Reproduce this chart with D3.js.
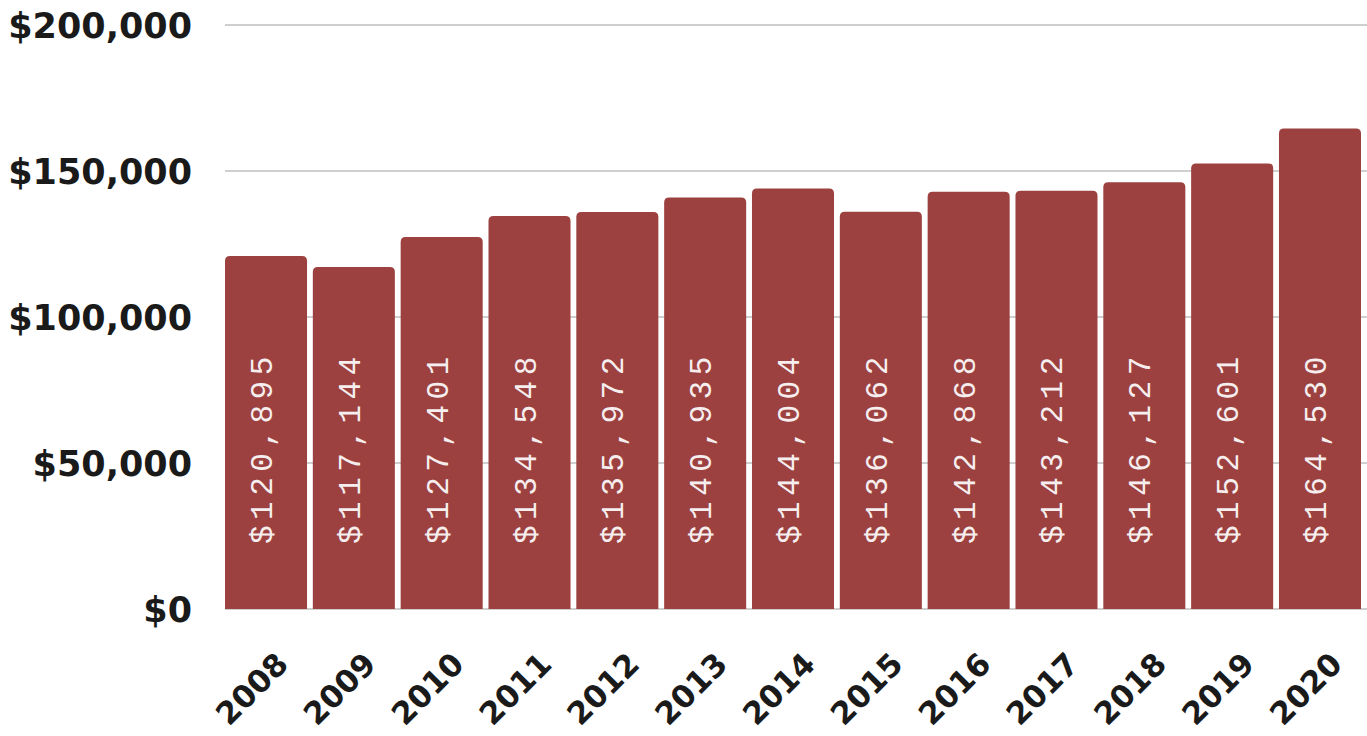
<!DOCTYPE html>
<html>
<head>
<meta charset="utf-8">
<script src="https://cdn.jsdelivr.net/npm/d3@7"></script>
<style>
  body { margin: 0; background: #fff; }
  svg { display: block; }
</style>
</head>
<body>
<div id="chart"></div>
<script>
const years = ["2008", "2009", "2010", "2011", "2012", "2013", "2014", "2015", "2016", "2017", "2018", "2019", "2020"];
const incomes = [120895, 117144, 127401, 134548, 135972, 140935, 144004, 136062, 142868, 143212, 146127, 152601, 164530];
const yTicks = [0, 50000, 100000, 150000, 200000];

const width = 1367, height = 736;
const svg = d3.select("#chart").append("svg")
    .attr("width", width)
    .attr("height", height);

const x = d3.scaleBand()
    .domain(years)
    .range([225, 1361])
    .paddingInner(0.066)
    .paddingOuter(0);

const y = d3.scaleLinear()
    .domain([0, 200000])
    .range([609, 25]);

const money = d3.format("$,");

// gridlines
svg.append("g")
  .selectAll("line")
  .data(yTicks)
  .join("line")
    .attr("x1", 225)
    .attr("x2", width)
    .attr("y1", d => y(d))
    .attr("y2", d => y(d))
    .attr("stroke", "#cfcfcf")
    .attr("stroke-width", 2);

// y axis labels
svg.append("g")
  .selectAll("text")
  .data(yTicks)
  .join("text")
    .attr("x", 192)
    .attr("y", d => y(d))
    .attr("dy", "0.38em")
    .attr("text-anchor", "end")
    .style("font-family", "'DejaVu Sans', sans-serif")
    .style("font-weight", "bold")
    .style("font-size", "35px")
    .style("fill", "#1a1a1a")
    .text(d => money(d));

// bars with rounded top corners
const r = 5;
function barPath(d, i) {
  const x0 = x(years[i]), w = x.bandwidth();
  const y0 = y(d), y1 = y(0);
  return `M${x0},${y1}V${y0 + r}Q${x0},${y0} ${x0 + r},${y0}H${x0 + w - r}Q${x0 + w},${y0} ${x0 + w},${y0 + r}V${y1}Z`;
}

svg.append("g")
  .selectAll("path")
  .data(incomes)
  .join("path")
    .attr("d", barPath)
    .attr("fill", "#9c4140");

// value labels inside bars
svg.append("g")
  .selectAll("text")
  .data(incomes)
  .join("text")
    .attr("transform", (d, i) => `translate(${x(years[i]) + x.bandwidth() / 2 + 6},544) rotate(-90)`)
    .attr("text-anchor", "start")
    .style("font-family", "'Liberation Mono', monospace")
    .style("font-size", "31px")
    .style("letter-spacing", "5.5px")
    .style("fill", "#f6eeee")
    .text(d => money(d));

// x axis labels
svg.append("g")
  .selectAll("text")
  .data(years)
  .join("text")
    .attr("transform", d => `translate(${x(d) + x.bandwidth() / 2 + 24},666) rotate(-45)`)
    .attr("text-anchor", "end")
    .style("font-family", "'DejaVu Sans', sans-serif")
    .style("font-weight", "bold")
    .style("font-size", "31px")
    .style("fill", "#1a1a1a")
    .text(d => d);
</script>
</body>
</html>
